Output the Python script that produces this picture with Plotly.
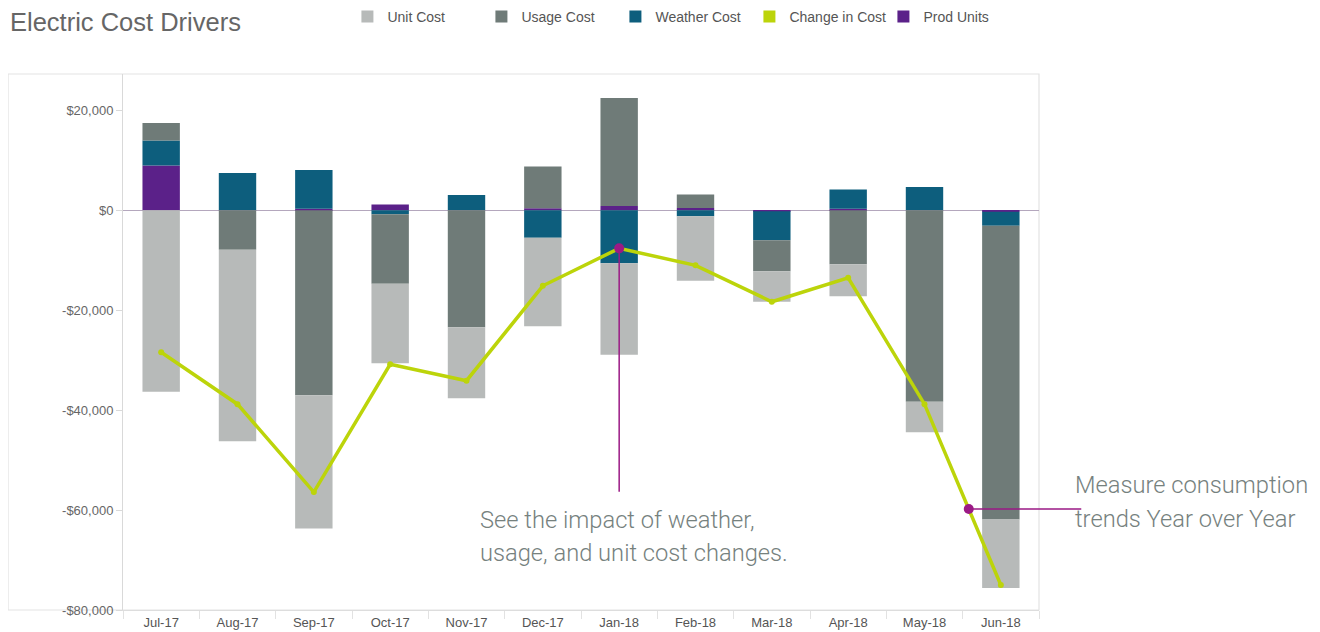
import plotly.graph_objects as go

# ---- data ----
months = ["Jul-17", "Aug-17", "Sep-17", "Oct-17", "Nov-17", "Dec-17",
          "Jan-18", "Feb-18", "Mar-18", "Apr-18", "May-18", "Jun-18"]
unit_cost = [-36300, -38300, -26700, -15900, -14200, -17700,
             -18300, -12900, -6100, -6400, -6100, -13700]
usage_cost = [3500, -7900, -37000, -13900, -23400, 8400,
              21600, 2700, -6200, -10800, -38300, -58800]
weather_cost = [5000, 7500, 7800, -800, 3100, -5500,
                -10600, -1200, -5800, 3900, 4700, -2800]
prod_units = [9000, 0, 300, 1200, 0, 400,
              900, 500, -200, 300, 0, -300]
change_in_cost = [-28400, -38800, -56400, -30800, -34100, -15100,
                  -7600, -11000, -18300, -13500, -38800, -75000]

y_tickvals = [20000, 0, -20000, -40000, -60000, -80000]
y_ticktext = ["$20,000", "$0", "-$20,000", "-$40,000", "-$60,000", "-$80,000"]

note_weather_lines = ["See the impact of weather,", "usage, and unit cost changes."]
note_trend_lines = ["Measure consumption", "trends Year over Year"]
weather_note_month = "Jan-18"
trend_note_pos = 10.58   # position along the May-18 -> Jun-18 segment

# ---- colours ----
C_UNIT = "#b7bab9"
C_USAGE = "#6f7b78"
C_WEATHER = "#0d5e7d"
C_CHANGE = "#bcd40a"
C_PROD = "#5b2189"
C_NOTE = "#9b1a85"
C_TEXT = "#76817e"

fig = go.Figure()

# stacking order from zero outward: prod, weather, usage, unit
fig.add_trace(go.Bar(x=months, y=prod_units, name="Prod Units", marker_color=C_PROD,
                     marker_line_width=0, legendrank=5))
fig.add_trace(go.Bar(x=months, y=weather_cost, name="Weather Cost", marker_color=C_WEATHER,
                     marker_line_width=0, legendrank=3))
fig.add_trace(go.Bar(x=months, y=usage_cost, name="Usage Cost", marker_color=C_USAGE,
                     marker_line_width=0, legendrank=2))
fig.add_trace(go.Bar(x=months, y=unit_cost, name="Unit Cost", marker_color=C_UNIT,
                     marker_line_width=0, legendrank=1))
# legend entry (square) for the change line
fig.add_trace(go.Bar(x=[months[0]], y=[None], name="Change in Cost", marker_color=C_CHANGE,
                     legendrank=4, hoverinfo="skip"))
fig.add_trace(go.Scatter(x=months, y=change_in_cost, mode="lines+markers", name="Change in Cost",
                         line=dict(color=C_CHANGE, width=3.5),
                         marker=dict(color=C_CHANGE, size=6), showlegend=False))

# magenta note dots (on an overlaid numeric x axis aligned with the category slots)
i_w = months.index(weather_note_month)
i0 = int(trend_note_pos)
t = trend_note_pos - i0
trend_y = change_in_cost[i0] + t * (change_in_cost[i0 + 1] - change_in_cost[i0])
fig.add_trace(go.Scatter(x=[i_w, trend_note_pos], y=[change_in_cost[i_w], trend_y],
                         xaxis="x2", mode="markers", marker=dict(color=C_NOTE, size=10),
                         showlegend=False, cliponaxis=False, hoverinfo="skip"))

fig.add_annotation(x=i_w, y=change_in_cost[i_w], xref="x2", yref="y", text="",
                   showarrow=True, arrowhead=0, arrowwidth=1.5, arrowcolor=C_NOTE,
                   ax=0, ay=245, axref="pixel", ayref="pixel", standoff=0)
fig.add_annotation(x=trend_note_pos, y=trend_y, xref="x2", yref="y", text="",
                   showarrow=True, arrowhead=0, arrowwidth=1.5, arrowcolor=C_NOTE,
                   ax=114, ay=0, axref="pixel", ayref="pixel", standoff=0)

NOTE_FONT = dict(family="Roboto", size=23.7, color=C_TEXT, weight=300)
for txt, yy in zip(note_weather_lines, [0.1679, 0.1063]):
    fig.add_annotation(x=0.3876, y=yy, xref="paper", yref="paper", text=txt,
                       showarrow=False, xanchor="left", yanchor="middle", align="left",
                       font=NOTE_FONT)
for txt, yy in zip(note_trend_lines, [0.2332, 0.1698]):
    fig.add_annotation(x=1.037, y=yy, xref="paper", yref="paper", text=txt,
                       showarrow=False, xanchor="left", yanchor="middle", align="left",
                       font=NOTE_FONT)

# light frame around the chart region
fig.add_shape(type="rect", xref="paper", yref="paper", x0=-0.1255, x1=1.0, y0=0, y1=1,
              line=dict(color="#e3e3e3", width=1.2), layer="below")

W, H = 1312, 624   # page body has an 8px margin in a 1320x632 window
fig.update_layout(
    width=W, height=H,
    template="none",
    barmode="relative",
    bargap=0.51,
    paper_bgcolor="white", plot_bgcolor="white",
    margin=dict(l=115, r=281, t=66, b=22, autoexpand=False),
    title=dict(text="Electric Cost Drivers", x=2 / W, xref="container", xanchor="left",
               y=1 - 14 / H, yref="container", yanchor="middle",
               font=dict(family="Liberation Sans", size=25.5, color="#666666")),
    legend=dict(orientation="h", x=0.245, xref="paper", xanchor="left",
                y=1 - 9 / H, yref="container", yanchor="middle",
                font=dict(family="Liberation Sans", size=14, color="#555555"),
                entrywidth=89, entrywidthmode="pixels", traceorder="normal",
                bgcolor="rgba(0,0,0,0)"),
    showlegend=True,
    xaxis=dict(type="category", categoryorder="array", categoryarray=months,
               range=[-0.5, 11.5], showgrid=False, zeroline=False,
               showline=True, linecolor="#dddddd", linewidth=1,
               ticks="outside", tickson="boundaries", ticklen=8, tickcolor="#e2e2e2",
               tickfont=dict(family="Liberation Sans", size=13, color="#555555"),
               automargin=False, fixedrange=True),
    xaxis2=dict(overlaying="x", range=[-0.5, 11.5], visible=False, fixedrange=True),
    yaxis=dict(range=[-80000, 27300], tickvals=y_tickvals, ticktext=y_ticktext,
               showgrid=False, zeroline=True, zerolinecolor="#b4a7bd", zerolinewidth=1,
               showline=True, linecolor="#d9d9d9", linewidth=1,
               ticks="outside", ticklen=6, tickcolor="#d9d9d9",
               tickfont=dict(family="Liberation Sans", size=13, color="#666666"),
               automargin=False, fixedrange=True),
)

fig.write_html("out.html")
